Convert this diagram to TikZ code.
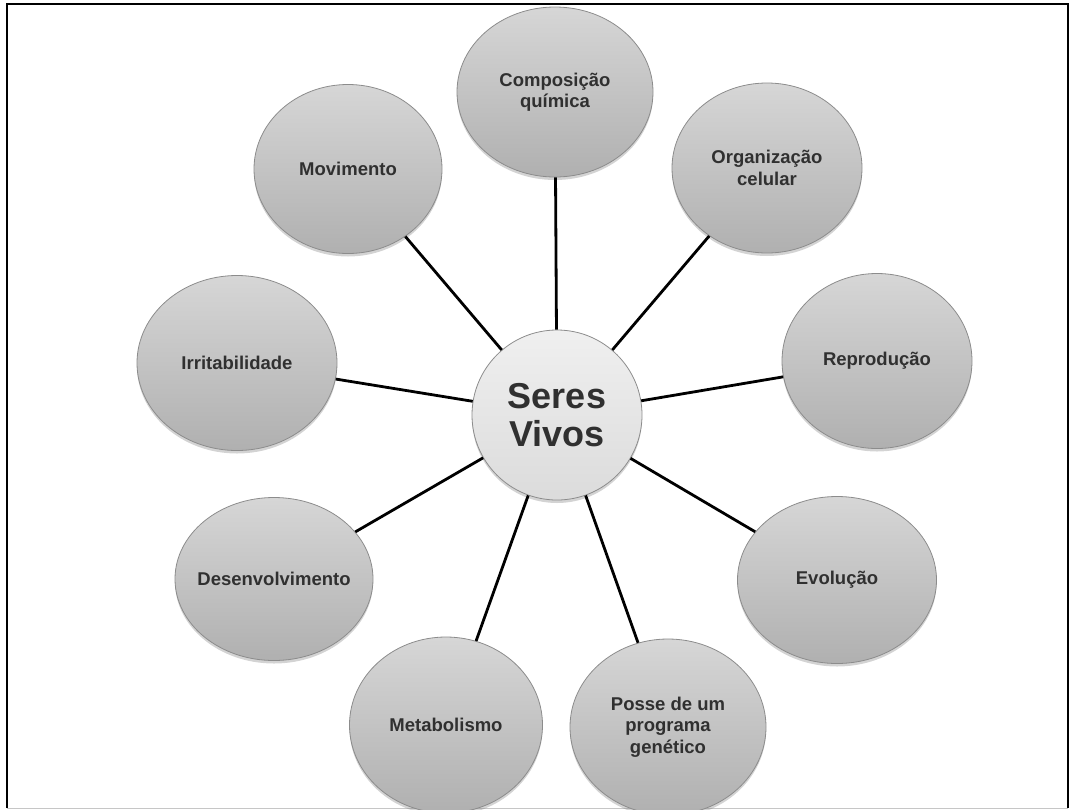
\documentclass[tikz,border=0pt]{standalone}
\usepackage{fontspec}
\setmainfont{Liberation Sans}
\usetikzlibrary{shapes.geometric,shadows}
\definecolor{txt}{HTML}{303030}
\definecolor{rim}{HTML}{8C8C8C}
\tikzset{
  bubble/.style={ellipse, inner sep=0pt, draw=rim, line width=0.8pt,
    top color=gray!32, bottom color=gray!62,
    drop shadow={opacity=0.35, shadow xshift=0pt, shadow yshift=-3pt},
    font=\fontsize{18.5}{21.5}\selectfont\bfseries, text=txt, align=center},
  hub/.style={circle, inner sep=0pt, minimum size=170pt, draw=rim, line width=0.8pt,
    top color=gray!12, bottom color=gray!28,
    drop shadow={opacity=0.35, shadow xshift=0pt, shadow yshift=-3pt},
    font=\fontsize{36}{38}\selectfont\bfseries, text=txt, align=center},
  link/.style={line width=2.8pt, black}
}
\begin{document}
\begin{tikzpicture}[x=1pt,y=-1pt]
\useasboundingbox (0,0) rectangle (1076,809);
\draw[line width=2pt] (7,808) -- (7,4) -- (1068,4) -- (1068,808);
\draw[gray!45, line width=1pt] (7,808) -- (1068,808);

\node[hub] (c) at (557,415) {Seres\\Vivos};

\node[bubble, minimum width=196pt, minimum height=170pt] (comp) at (555,92) {Composição\\química};
\node[bubble, minimum width=190pt, minimum height=170pt] (org) at (767,168) {Organização\\celular};
\node[bubble, minimum width=190pt, minimum height=175pt] (rep) at (877,361) {Reprodução};
\node[bubble, minimum width=199pt, minimum height=167pt] (evo) at (837,580) {Evolução};
\node[bubble, minimum width=196pt, minimum height=176pt] (pos) at (668,727) {Posse de um\\programa\\genético};
\node[bubble, minimum width=193pt, minimum height=176pt] (met) at (446,725) {Metabolismo};
\node[bubble, minimum width=198pt, minimum height=163pt, inner xsep=-10pt] (des) at (274,579) {Desenvolvimento};
\node[bubble, minimum width=200pt, minimum height=175pt] (irr) at (237,363) {Irritabilidade};
\node[bubble, minimum width=188pt, minimum height=169pt] (mov) at (348,169) {Movimento};

\foreach \n in {comp,org,rep,evo,pos,met,des,irr,mov}
  \draw[link] (c) -- (\n);
\end{tikzpicture}
\end{document}
